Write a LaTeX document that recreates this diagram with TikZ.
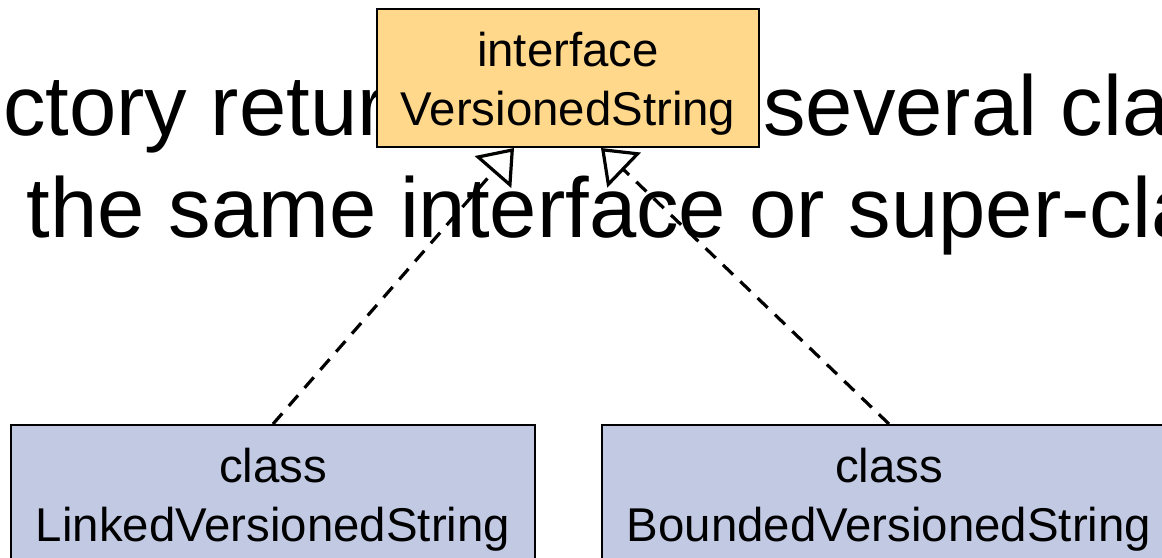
\documentclass[tikz,border=0pt]{standalone}
\usepackage{fontspec}
\setmainfont{Liberation Sans}
\usepackage{xcolor}
\usetikzlibrary{arrows.meta}

\definecolor{ifacefill}{RGB}{255,216,140}
\definecolor{classfill}{RGB}{194,202,227}

\pgfdeclarelayer{background}
\pgfsetlayers{background,main}

\begin{document}
\begin{tikzpicture}[x=0.5pt,y=-0.5pt,
  umlbox/.style={draw,line width=1pt,inner sep=0pt,align=center,anchor=north west,
    font=\fontsize{23.7}{29.5}\selectfont,text height=58pt,text depth=11pt},
  slidetext/.style={anchor=base west,inner sep=0pt,font=\fontsize{42.5}{51}\selectfont},
  realizes/.style={line width=1.6pt,dash pattern=on 7pt off 5pt,
    -{Triangle[open,length=16pt,width=24pt]}}]
\useasboundingbox (0,0) rectangle (1162,557);
% the interface and its two classes
\node[umlbox,fill=ifacefill,minimum width=191pt] (iface) at (376,8) {interface\\VersionedString};
\node[umlbox,fill=classfill,minimum width=262pt] (lvs) at (10,424) {class\\LinkedVersionedString};
\node[umlbox,fill=classfill,minimum width=287pt] (bvs) at (601,424) {class\\BoundedVersionedString};
% slide text behind the boxes
\begin{pgfonlayer}{background}
\node[slidetext] (line1a) at (2.7,135) {ctory retur};
\node[slidetext] (line1b) at (763,135) {several cla};
\node[slidetext] (line2) at (26.5,237) {the same interface or super-cla};
\end{pgfonlayer}
\path (lvs.north) edge [realizes] ([xshift=-27pt]iface.south);
\path (bvs.north) edge [realizes] ([xshift=16.5pt]iface.south);
\end{tikzpicture}
\end{document}
